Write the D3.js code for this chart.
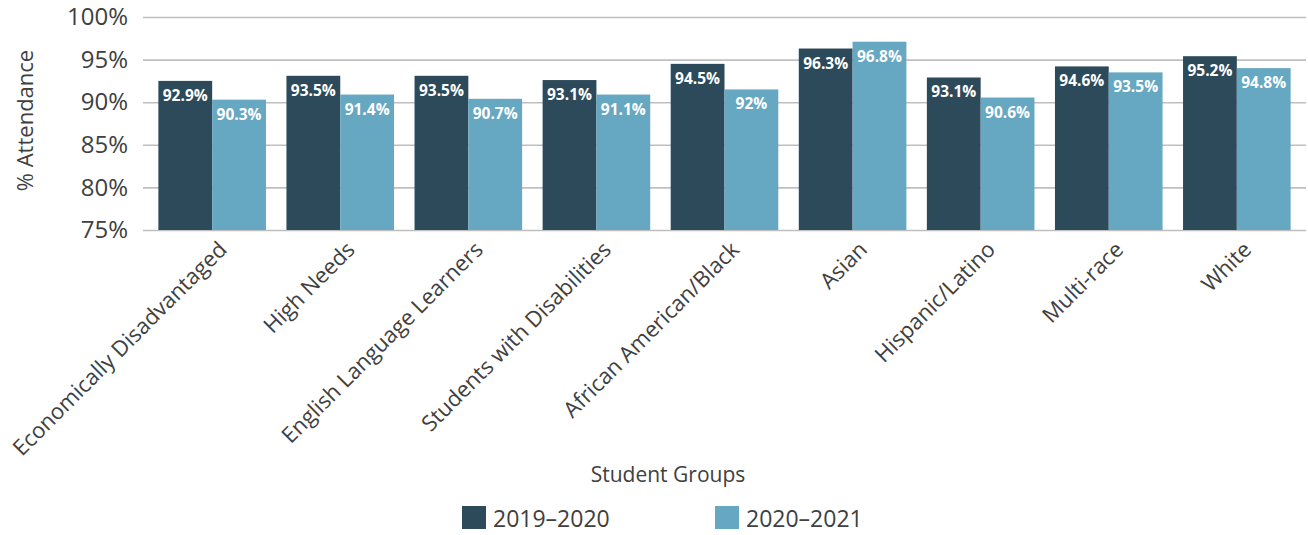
<!DOCTYPE html>
<html>
<head>
<meta charset="utf-8">
<script src="https://cdn.jsdelivr.net/npm/d3@7"></script>
<style>
  body { margin: 0; background: #fff; }
  svg { display: block; }
  svg text { font-family: "Open Sans", sans-serif; }
</style>
</head>
<body>
<div id="chart"></div>
<script>
// data
const groups = ["Economically Disadvantaged", "High Needs", "English Language Learners",
  "Students with Disabilities", "African American/Black", "Asian", "Hispanic/Latino",
  "Multi-race", "White"];
const seriesNames = ["2019\u20132020", "2020\u20132021"];
// bar heights as drawn
const values2019 = [92.5, 93.1, 93.1, 92.6, 94.5, 96.3, 92.9, 94.2, 95.4];
const values2020 = [90.3, 90.9, 90.4, 90.9, 91.5, 97.1, 90.55, 93.5, 94.0];
// printed labels
const labels2019 = ["92.9%", "93.5%", "93.5%", "93.1%", "94.5%", "96.3%", "93.1%", "94.6%", "95.2%"];
const labels2020 = ["90.3%", "91.4%", "90.7%", "91.1%", "92%", "96.8%", "90.6%", "93.5%", "94.8%"];
const yTicks = [75, 80, 85, 90, 95, 100];
const colors = ["#2d4a5a", "#66a7c1"];

const W = 1308, H = 535;
const plotLeft = 143, plotRight = 1306, plotTop = 17, plotBottom = 230;

const svg = d3.select("#chart").append("svg")
  .attr("width", W)
  .attr("height", H);

const x0 = d3.scaleBand()
  .domain(groups)
  .range([plotLeft, plotRight])
  .paddingInner(0.16)
  .paddingOuter(0.12);

const x1 = d3.scaleBand()
  .domain(seriesNames)
  .range([0, x0.bandwidth()]);

const y = d3.scaleLinear()
  .domain([75, 100])
  .range([plotBottom, plotTop]);

// y axis + gridlines
const yAxis = svg.append("g")
  .attr("transform", "translate(" + plotLeft + ",0)")
  .call(d3.axisLeft(y)
    .tickValues(yTicks)
    .tickSize(-(plotRight - plotLeft))
    .tickPadding(15)
    .tickFormat(d => d + "%"));
yAxis.select(".domain").remove();
yAxis.selectAll("line")
  .attr("stroke", "#bfbfbf")
  .attr("stroke-width", 1.6);
yAxis.selectAll("text")
  .attr("fill", "#404040")
  .style("font-size", "24px");

const rows = groups.map((g, i) => ({
  group: g,
  items: [
    { series: seriesNames[0], value: values2019[i], label: labels2019[i], color: colors[0] },
    { series: seriesNames[1], value: values2020[i], label: labels2020[i], color: colors[1] }
  ]
}));

const groupSel = svg.append("g").selectAll("g")
  .data(rows)
  .enter()
  .append("g")
  .attr("transform", d => "translate(" + x0(d.group) + ",0)");

groupSel.selectAll("rect")
  .data(d => d.items)
  .enter()
  .append("rect")
  .attr("x", d => x1(d.series))
  .attr("y", d => y(d.value))
  .attr("width", x1.bandwidth())
  .attr("height", d => y(75) - y(d.value))
  .attr("fill", d => d.color);

groupSel.selectAll("text")
  .data(d => d.items)
  .enter()
  .append("text")
  .attr("x", d => x1(d.series) + x1.bandwidth() / 2)
  .attr("y", d => y(d.value) + 20)
  .attr("text-anchor", "middle")
  .attr("fill", "#fff")
  .style("font-size", "15.5px")
  .style("font-weight", "700")
  .text(d => d.label);

// x axis labels
const xAxis = svg.append("g")
  .attr("transform", "translate(0," + plotBottom + ")")
  .call(d3.axisBottom(x0).tickSize(0));
xAxis.select(".domain").remove();
xAxis.selectAll("text")
  .attr("x", 0)
  .attr("y", 0)
  .attr("dy", 0)
  .attr("text-anchor", "end")
  .attr("transform", "translate(16,21) rotate(-45)")
  .attr("fill", "#404040")
  .style("font-size", "22px");

// axis titles
svg.append("text")
  .attr("transform", "translate(24," + ((plotTop + plotBottom) / 2 - 3) + ") rotate(-90)")
  .attr("text-anchor", "middle")
  .attr("dominant-baseline", "central")
  .attr("fill", "#404040")
  .style("font-size", "22px")
  .text("% Attendance");

svg.append("text")
  .attr("x", 668)
  .attr("y", 482)
  .attr("text-anchor", "middle")
  .attr("fill", "#404040")
  .style("font-size", "21px")
  .text("Student Groups");

// legend
const legendX = [462, 715];
const legend = svg.append("g").selectAll("g")
  .data(seriesNames)
  .enter()
  .append("g")
  .attr("transform", (d, i) => "translate(" + legendX[i] + ",506)");
legend.append("rect")
  .attr("width", 24)
  .attr("height", 23)
  .attr("fill", (d, i) => colors[i]);
legend.append("text")
  .attr("x", 31)
  .attr("y", 21)
  .attr("fill", "#404040")
  .style("font-size", "23px")
  .text(d => d);
</script>
</body>
</html>
